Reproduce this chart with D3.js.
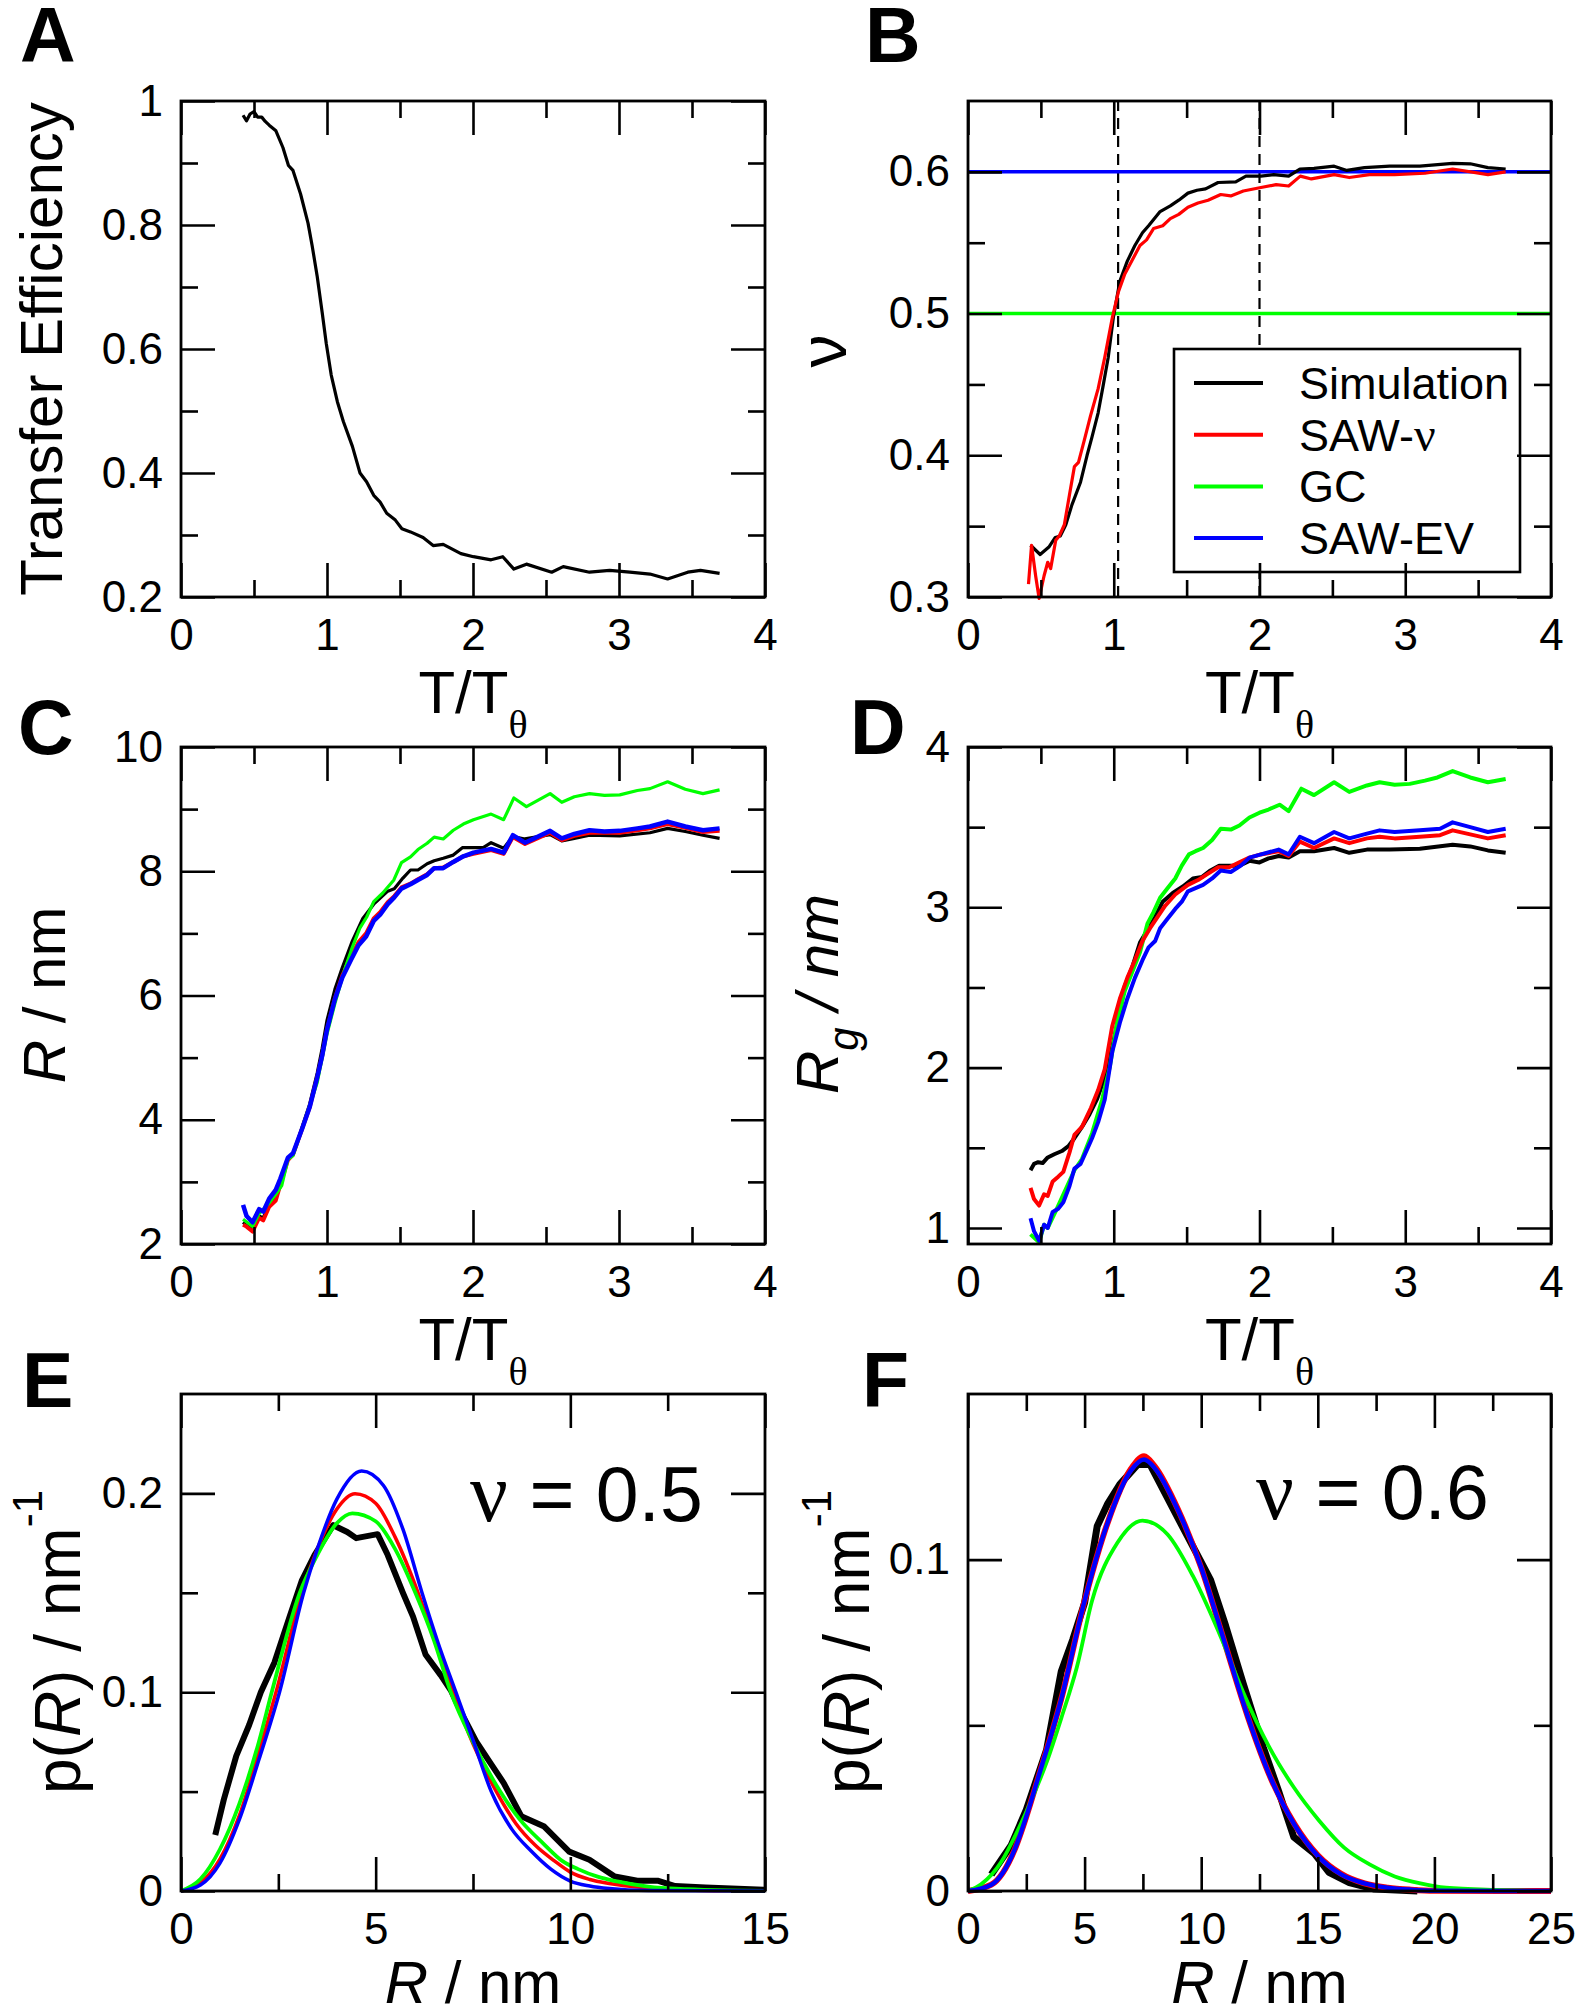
<!DOCTYPE html>
<html><head><meta charset="utf-8">
<script src="https://cdn.jsdelivr.net/npm/d3@7"></script>
<style>
html,body{margin:0;padding:0;background:#fff;}
svg text{font-family:"Liberation Sans",Arial,Helvetica,sans-serif;fill:#000;}
</style></head><body>
<svg id="fig" width="1581" height="2010" xmlns="http://www.w3.org/2000/svg"></svg>
<script>
// ---------------- DATA ----------------
// Panel A: transfer efficiency vs T/Ttheta
const effSim = [[0.425,0.977],[0.449,0.968],[0.473,0.979],[0.50,0.983],[0.525,0.974],[0.553,0.974],[0.577,0.967],[0.604,0.961],[0.65,0.952],[0.698,0.925],[0.736,0.896],[0.767,0.888],[0.819,0.85],[0.87,0.803],[0.898,0.767],[0.933,0.717],[0.967,0.659],[0.995,0.609],[1.029,0.558],[1.071,0.515],[1.112,0.483],[1.174,0.443],[1.226,0.40],[1.271,0.386],[1.32,0.364],[1.364,0.353],[1.409,0.335],[1.468,0.324],[1.513,0.31],[1.572,0.305],[1.658,0.296],[1.727,0.283],[1.796,0.285],[1.917,0.27],[2.003,0.265],[2.124,0.26],[2.204,0.265],[2.28,0.245],[2.366,0.253],[2.539,0.24],[2.618,0.249],[2.798,0.24],[2.936,0.243],[3.074,0.24],[3.212,0.237],[3.333,0.229],[3.471,0.24],[3.558,0.243],[3.689,0.238]];

// Panel B: scaling exponent nu
const nuSim = [[0.429,0.3365],[0.495,0.330],[0.557,0.3355],[0.599,0.342],[0.633,0.343],[0.671,0.351],[0.713,0.365],[0.772,0.381],[0.817,0.40],[0.851,0.413],[0.893,0.43],[0.927,0.449],[0.962,0.469],[0.997,0.497],[1.042,0.523],[1.093,0.537],[1.145,0.548],[1.197,0.557],[1.239,0.562],[1.318,0.572],[1.388,0.576],[1.446,0.580],[1.509,0.585],[1.571,0.587],[1.63,0.588],[1.716,0.5925],[1.837,0.593],[1.907,0.597],[2.01,0.597],[2.097,0.598],[2.2,0.597],[2.277,0.602],[2.374,0.6025],[2.512,0.604],[2.599,0.601],[2.72,0.603],[2.893,0.604],[3.1,0.604],[3.325,0.606],[3.446,0.6057],[3.567,0.603],[3.689,0.602]];
const nuSAW = [[0.415,0.309],[0.436,0.3365],[0.464,0.315],[0.488,0.299],[0.522,0.315],[0.547,0.3245],[0.567,0.320],[0.602,0.340],[0.626,0.343],[0.661,0.351],[0.696,0.372],[0.73,0.392],[0.758,0.395],[0.799,0.411],[0.841,0.428],[0.893,0.447],[0.938,0.469],[0.99,0.497],[1.031,0.515],[1.076,0.528],[1.128,0.538],[1.18,0.548],[1.225,0.552],[1.273,0.560],[1.336,0.562],[1.388,0.567],[1.446,0.570],[1.509,0.575],[1.578,0.578],[1.647,0.580],[1.734,0.584],[1.803,0.583],[1.889,0.5865],[2.01,0.589],[2.114,0.591],[2.2,0.590],[2.28,0.597],[2.356,0.595],[2.512,0.598],[2.616,0.596],[2.754,0.598],[2.927,0.598],[3.135,0.599],[3.325,0.602],[3.567,0.598],[3.689,0.600]];
const nuGC = [[0,0.5],[4,0.5]];
const nuEV = [[0,0.6],[4,0.6]];
const thetaMarks = [1.03, 2.0];
const legendNames = ["Simulation","SAW-\u03bd","GC","SAW-EV"];

// Panel C: end-to-end distance R / nm
const rSim = [[0.425,2.35],[0.449,2.3],[0.49,2.24],[0.535,2.45],[0.563,2.42],[0.604,2.64],[0.649,2.78],[0.68,3.0],[0.732,3.37],[0.767,3.44],[0.829,3.88],[0.881,4.25],[0.933,4.75],[0.967,5.15],[1.0,5.6],[1.054,6.1],[1.105,6.45],[1.174,6.88],[1.243,7.23],[1.32,7.47],[1.416,7.68],[1.461,7.72],[1.52,7.89],[1.572,8.02],[1.623,8.02],[1.686,8.12],[1.734,8.17],[1.796,8.21],[1.865,8.26],[1.927,8.38],[2.0,8.38],[2.07,8.38],[2.124,8.46],[2.21,8.37],[2.273,8.56],[2.356,8.52],[2.528,8.59],[2.608,8.49],[2.694,8.53],[2.798,8.58],[3.005,8.57],[3.212,8.62],[3.333,8.69],[3.454,8.64],[3.575,8.58],[3.689,8.53]];
const rSAW = [[0.425,2.31],[0.449,2.28],[0.49,2.2],[0.535,2.42],[0.563,2.38],[0.604,2.6],[0.649,2.7],[0.68,2.95],[0.732,3.35],[0.767,3.44],[0.829,3.85],[0.881,4.2],[0.933,4.68],[0.967,5.03],[1.0,5.45],[1.054,5.95],[1.105,6.32],[1.164,6.62],[1.216,6.86],[1.268,7.0],[1.32,7.24],[1.364,7.34],[1.416,7.5],[1.461,7.6],[1.51,7.74],[1.572,7.8],[1.623,7.87],[1.686,7.95],[1.734,8.05],[1.796,8.06],[1.865,8.15],[1.934,8.24],[2.003,8.28],[2.124,8.34],[2.21,8.28],[2.273,8.55],[2.356,8.44],[2.528,8.62],[2.608,8.5],[2.694,8.57],[2.798,8.62],[2.9,8.62],[3.005,8.62],[3.126,8.66],[3.212,8.69],[3.333,8.76],[3.454,8.7],[3.575,8.63],[3.689,8.65]];
const rGC = [[0.425,2.4],[0.49,2.28],[0.535,2.49],[0.604,2.66],[0.649,2.8],[0.69,2.94],[0.732,3.36],[0.767,3.42],[0.829,3.85],[0.933,4.6],[1.0,5.38],[1.054,5.87],[1.123,6.43],[1.174,6.78],[1.226,7.09],[1.271,7.26],[1.32,7.51],[1.382,7.65],[1.458,7.86],[1.51,8.14],[1.572,8.23],[1.623,8.35],[1.686,8.45],[1.734,8.55],[1.796,8.52],[1.865,8.66],[1.934,8.76],[2.003,8.83],[2.124,8.92],[2.21,8.83],[2.28,9.18],[2.366,9.04],[2.528,9.25],[2.608,9.11],[2.694,9.2],[2.798,9.25],[2.9,9.22],[3.005,9.23],[3.126,9.3],[3.212,9.33],[3.333,9.44],[3.454,9.32],[3.575,9.25],[3.689,9.31]];
const rEV = [[0.425,2.63],[0.449,2.45],[0.49,2.35],[0.535,2.56],[0.563,2.52],[0.604,2.73],[0.649,2.87],[0.68,3.05],[0.732,3.39],[0.767,3.46],[0.829,3.85],[0.881,4.2],[0.933,4.68],[0.967,5.03],[1.0,5.45],[1.054,5.94],[1.105,6.29],[1.164,6.57],[1.216,6.81],[1.268,6.95],[1.32,7.2],[1.364,7.3],[1.416,7.47],[1.461,7.58],[1.51,7.72],[1.572,7.79],[1.623,7.86],[1.686,7.94],[1.734,8.05],[1.796,8.05],[1.865,8.15],[1.934,8.24],[2.003,8.3],[2.124,8.36],[2.21,8.3],[2.273,8.58],[2.356,8.46],[2.528,8.65],[2.608,8.53],[2.694,8.6],[2.798,8.66],[2.9,8.64],[3.005,8.65],[3.126,8.69],[3.212,8.72],[3.333,8.8],[3.454,8.72],[3.575,8.66],[3.689,8.69]];

// Panel D: radius of gyration Rg / nm
const rgSim = [[0.429,1.36],[0.453,1.40],[0.481,1.41],[0.512,1.405],[0.547,1.44],[0.592,1.46],[0.644,1.48],[0.689,1.51],[0.73,1.56],[0.782,1.63],[0.834,1.71],[0.886,1.805],[0.938,1.94],[0.99,2.13],[1.042,2.35],[1.076,2.51],[1.128,2.63],[1.18,2.78],[1.232,2.86],[1.284,2.94],[1.336,3.035],[1.405,3.09],[1.474,3.13],[1.543,3.18],[1.606,3.19],[1.664,3.23],[1.723,3.26],[1.803,3.26],[1.862,3.26],[1.931,3.29],[2.0,3.28],[2.062,3.305],[2.131,3.32],[2.2,3.31],[2.277,3.35],[2.374,3.35],[2.512,3.37],[2.616,3.34],[2.737,3.36],[2.893,3.36],[3.1,3.365],[3.325,3.39],[3.446,3.38],[3.567,3.355],[3.689,3.34]];
const rgSAW = [[0.429,1.25],[0.453,1.18],[0.488,1.14],[0.522,1.21],[0.547,1.2],[0.581,1.29],[0.619,1.32],[0.654,1.35],[0.696,1.47],[0.73,1.58],[0.782,1.63],[0.844,1.75],[0.893,1.86],[0.938,1.99],[0.99,2.26],[1.042,2.43],[1.093,2.56],[1.145,2.67],[1.197,2.79],[1.249,2.87],[1.301,2.94],[1.353,3.01],[1.422,3.08],[1.509,3.14],[1.578,3.17],[1.647,3.21],[1.716,3.25],[1.792,3.25],[1.862,3.28],[1.931,3.31],[2.01,3.33],[2.131,3.35],[2.2,3.32],[2.277,3.41],[2.374,3.37],[2.512,3.43],[2.616,3.40],[2.737,3.43],[2.824,3.44],[2.927,3.43],[3.1,3.44],[3.239,3.45],[3.325,3.48],[3.446,3.455],[3.567,3.43],[3.689,3.45]];
const rgGC = [[0.429,0.96],[0.488,0.91],[0.522,1.02],[0.547,1.0],[0.61,1.12],[0.73,1.36],[0.782,1.43],[0.851,1.59],[0.92,1.8],[0.972,2.0],[1.024,2.29],[1.076,2.48],[1.128,2.6],[1.18,2.72],[1.232,2.9],[1.273,2.97],[1.318,3.06],[1.37,3.12],[1.422,3.18],[1.467,3.26],[1.516,3.33],[1.561,3.35],[1.613,3.37],[1.675,3.42],[1.734,3.49],[1.803,3.485],[1.862,3.51],[1.931,3.56],[2.0,3.59],[2.062,3.61],[2.138,3.64],[2.2,3.60],[2.287,3.74],[2.374,3.70],[2.512,3.78],[2.616,3.72],[2.737,3.76],[2.824,3.78],[2.927,3.765],[3.031,3.77],[3.135,3.79],[3.221,3.81],[3.325,3.85],[3.446,3.81],[3.567,3.78],[3.689,3.80]];
const rgEV = [[0.429,1.06],[0.453,0.98],[0.488,0.92],[0.522,1.02],[0.547,1.0],[0.581,1.1],[0.619,1.12],[0.654,1.16],[0.696,1.26],[0.73,1.37],[0.772,1.40],[0.817,1.49],[0.851,1.56],[0.893,1.66],[0.938,1.8],[0.99,2.1],[1.042,2.28],[1.093,2.43],[1.145,2.56],[1.197,2.67],[1.239,2.75],[1.284,2.79],[1.318,2.87],[1.37,2.93],[1.422,2.99],[1.467,3.035],[1.509,3.10],[1.561,3.12],[1.613,3.14],[1.675,3.18],[1.734,3.23],[1.803,3.22],[1.872,3.26],[1.931,3.31],[2.01,3.33],[2.131,3.36],[2.2,3.33],[2.277,3.44],[2.374,3.40],[2.512,3.47],[2.616,3.43],[2.737,3.46],[2.824,3.48],[2.927,3.47],[3.1,3.48],[3.239,3.49],[3.325,3.53],[3.446,3.50],[3.567,3.47],[3.689,3.49]];

// Panel E: p(R) at nu = 0.5
const pSim05 = [[0.88,0.0282],[1.1,0.046],[1.42,0.068],[1.75,0.0835],[2.05,0.1],[2.4,0.115],[2.79,0.138],[3.1,0.156],[3.43,0.169],[3.91,0.184],[4.27,0.1806],[4.5,0.1775],[5.05,0.1795],[5.31,0.169],[5.7,0.150],[5.96,0.138],[6.28,0.119],[6.67,0.1086],[6.93,0.101],[7.25,0.0877],[7.58,0.0752],[7.97,0.0637],[8.29,0.0543],[8.74,0.0376],[9.33,0.0324],[9.97,0.0198],[10.49,0.0157],[11.14,0.0073],[11.72,0.0052],[12.24,0.0052],[12.69,0.0025],[13.47,0.0017],[15,0.0006]];
const pSAW05 = [[0,0],[0.5,0.004],[1,0.016],[1.5,0.038],[2,0.07],[2.44,0.1],[3.1,0.15],[3.5,0.172],[4,0.192],[4.47,0.1998],[5,0.195],[5.5,0.178],[6.09,0.15],[6.5,0.127],[6.98,0.1],[7.5,0.074],[8.1,0.05],[8.6,0.034],[9.1,0.023],[9.6,0.015],[10,0.0095],[10.5,0.0058],[11,0.0038],[12,0.0016],[13,0.0005],[14,0.0001],[15,0]];
const pGC05 = [[0,0],[0.5,0.006],[1,0.021],[1.5,0.044],[2,0.075],[2.33,0.1],[3.05,0.15],[3.5,0.169],[4,0.185],[4.4,0.19],[5,0.186],[5.5,0.172],[6.02,0.15],[6.5,0.126],[6.93,0.1],[7.5,0.075],[8.2,0.05],[8.7,0.036],[9.3,0.024],[9.8,0.015],[10.2,0.011],[10.7,0.0072],[11.2,0.0048],[12,0.0022],[13,0.0009],[14,0.0003],[15,0.0001]];
const pEV05 = [[0,0],[0.5,0.003],[1,0.014],[1.5,0.036],[2,0.066],[2.53,0.1],[3.15,0.15],[3.5,0.172],[4,0.197],[4.64,0.2113],[5.2,0.204],[5.7,0.182],[6.19,0.15],[6.6,0.125],[7.06,0.1],[7.5,0.076],[7.97,0.05],[8.5,0.031],[9.0,0.02],[9.5,0.011],[10,0.005],[10.5,0.0025],[11,0.0012],[12,0.0002],[15,0]];

// Panel F: p(R) at nu = 0.6
const pSim06 = [[1.0,0.005],[1.86,0.0139],[2.5,0.0245],[3.37,0.0426],[4.0,0.0663],[4.5,0.076],[5.0,0.087],[5.54,0.1101],[6.0,0.117],[6.51,0.1227],[7.27,0.1287],[7.81,0.1287],[9.0,0.1126],[10.4,0.0939],[11.05,0.080],[11.8,0.0626],[12.67,0.0432],[13.32,0.0301],[13.97,0.0163],[14.84,0.0114],[15.48,0.0056],[16.35,0.0025],[17.43,0.0006],[19.27,0]];
const pSAW06 = [[0,0],[1,0.0019],[2,0.0125],[2.5,0.0225],[3,0.034],[4,0.058],[5,0.0876],[6,0.1114],[7,0.1275],[7.55,0.1312],[8,0.1282],[9,0.1152],[10,0.0976],[11,0.0751],[12,0.0526],[13,0.0338],[14,0.0202],[15,0.0108],[16,0.0052],[17,0.0023],[18,0.001],[19,0.0004],[20,0.0001],[25,0]];
const pGC06 = [[0,0],[0.56,0.002],[1.43,0.0088],[2.08,0.0175],[2.72,0.0275],[3.37,0.0388],[4.02,0.0526],[4.67,0.0676],[5.32,0.0876],[6.4,0.105],[7.48,0.1118],[8.56,0.1076],[9.65,0.095],[10.94,0.075],[11.8,0.060],[12.89,0.0438],[13.97,0.0313],[15.05,0.0213],[16.13,0.0131],[17.2,0.0081],[18.3,0.0044],[19.4,0.0023],[20.5,0.001],[22.6,0.0003],[25,0]];
const pEV06 = [[0,0],[1,0.0019],[2,0.0125],[2.5,0.0225],[3,0.034],[4,0.058],[5,0.0876],[6,0.1114],[7,0.127],[7.55,0.1302],[8,0.1277],[9,0.115],[10,0.0976],[11,0.0751],[12,0.0526],[13,0.0338],[14,0.02],[15,0.0106],[16,0.005],[17,0.0023],[18,0.001],[19,0.0004],[20,0.0001],[25,0]];

// tick values
const tTicksMaj = [0,1,2,3,4], tTicksMin = [0.5,1.5,2.5,3.5];
const effTicksMaj = [0.2,0.4,0.6,0.8,1], effTicksMin = [0.3,0.5,0.7,0.9];
const nuTicksMaj = [0.3,0.4,0.5,0.6], nuTicksMin = [0.35,0.45,0.55];
const rTicksMaj = [2,4,6,8,10], rTicksMin = [3,5,7,9];
const rgTicksMaj = [1,2,3,4], rgTicksMin = [1.5,2.5,3.5];
const eXMaj = [0,5,10,15], eXMin = [2.5,7.5,12.5];
const eYMaj = [0,0.1,0.2], eYMin = [0.05,0.15];
const fXMaj = [0,5,10,15,20,25], fXMin = [2.5,7.5,12.5,17.5,22.5];
const fYMaj = [0,0.1], fYMin = [0.05];

// ---------------- DRAWING ----------------
const svg = d3.select("#fig");
const COL = {sim:"#000000", saw:"#ff0000", gc:"#00ff00", ev:"#0000ff"};
const MAJ = 34, MIN = 17;

function panel(left, top, w, h, xd, yd) {
  const x = d3.scaleLinear().domain(xd).range([left, left + w]);
  const y = d3.scaleLinear().domain(yd).range([top + h, top]);
  const g = svg.append("g");
  return {g, x, y, left, top, w, h};
}
function styleAxis(sel) {
  sel.select(".domain").remove();
  sel.selectAll(".tick line").attr("stroke", "#000").attr("stroke-width", 2.6);
  sel.selectAll(".tick text").attr("font-size", 44).attr("font-family", "'Liberation Sans', Arial, sans-serif").attr("fill", "#000");
  sel.attr("font-size", null).attr("font-family", null);
}
function axes(P, xMaj, xMin, yMaj, yMin) {
  const {g, x, y, left, top, w, h} = P;
  const b = top + h, r = left + w;
  const fmt = d => String(d);
  g.append("g").attr("transform", `translate(0,${b})`)
    .call(d3.axisBottom(x).tickValues(xMaj).tickSize(-MAJ).tickPadding(22).tickFormat(fmt)).call(styleAxis);
  g.append("g").attr("transform", `translate(0,${b})`)
    .call(d3.axisBottom(x).tickValues(xMin).tickSize(-MIN).tickFormat("")).call(styleAxis);
  g.append("g").attr("transform", `translate(0,${top})`)
    .call(d3.axisTop(x).tickValues(xMaj).tickSize(-MAJ).tickFormat("")).call(styleAxis);
  g.append("g").attr("transform", `translate(0,${top})`)
    .call(d3.axisTop(x).tickValues(xMin).tickSize(-MIN).tickFormat("")).call(styleAxis);
  g.append("g").attr("transform", `translate(${left},0)`)
    .call(d3.axisLeft(y).tickValues(yMaj).tickSize(-MAJ).tickPadding(18).tickFormat(fmt)).call(styleAxis);
  g.append("g").attr("transform", `translate(${left},0)`)
    .call(d3.axisLeft(y).tickValues(yMin).tickSize(-MIN).tickFormat("")).call(styleAxis);
  g.append("g").attr("transform", `translate(${r},0)`)
    .call(d3.axisRight(y).tickValues(yMaj).tickSize(-MAJ).tickFormat("")).call(styleAxis);
  g.append("g").attr("transform", `translate(${r},0)`)
    .call(d3.axisRight(y).tickValues(yMin).tickSize(-MIN).tickFormat("")).call(styleAxis);
  g.append("rect").attr("x", left).attr("y", top).attr("width", w).attr("height", h)
    .attr("fill", "none").attr("stroke", "#000").attr("stroke-width", 2.8);
}
function series(P, data, color, width, curve) {
  const line = d3.line().x(d => P.x(d[0])).y(d => P.y(d[1])).curve(curve || d3.curveLinear);
  P.g.append("path").attr("d", line(data)).attr("fill", "none")
    .attr("stroke", color).attr("stroke-width", width).attr("stroke-linejoin", "round");
}
function letter(txt, x, y) {
  svg.append("text").attr("x", x).attr("y", y).attr("font-size", 77).attr("font-weight", "bold").text(txt);
}
function xLabelT(P) {
  const t = svg.append("text").attr("x", P.left + P.w / 2).attr("y", P.top + P.h + 116)
    .attr("text-anchor", "middle").attr("font-size", 60);
  t.append("tspan").text("T/T");
  t.append("tspan").attr("font-size", 40).attr("dy", 25).attr("font-family", "'Liberation Serif', 'Times New Roman', serif").text("\u03b8");
}
function xLabelR(P) {
  const t = svg.append("text").attr("x", P.left + P.w / 2).attr("y", P.top + P.h + 112)
    .attr("text-anchor", "middle").attr("font-size", 60);
  t.append("tspan").attr("font-style", "italic").text("R");
  t.append("tspan").text(" / nm");
}
function yLabel(bx, cy) {
  return svg.append("text").attr("transform", `translate(${bx},${cy}) rotate(-90)`)
    .attr("text-anchor", "middle").attr("font-size", 60);
}

// Panel A
const A = panel(181, 101, 584, 496, [0, 4], [0.2, 1]);
series(A, effSim, COL.sim, 3.2);
axes(A, tTicksMaj, tTicksMin, effTicksMaj, effTicksMin);
letter("A", 20, 62);
xLabelT(A);
yLabel(62, 349).text("Transfer Efficiency");

// Panel B
const B = panel(968, 101, 583, 496, [0, 4], [0.3, 0.65]);
thetaMarks.forEach(v => {
  B.g.append("line").attr("x1", B.x(v)).attr("x2", B.x(v)).attr("y1", B.y(0.3)).attr("y2", B.y(0.65))
    .attr("stroke", "#000").attr("stroke-width", 2.2).attr("stroke-dasharray", "11,7");
});
series(B, nuGC, COL.gc, 3.5);
series(B, nuEV, COL.ev, 3.5);
series(B, nuSim, COL.sim, 3.2);
series(B, nuSAW, COL.saw, 3.2);
// legend
{
  const lg = B.g.append("g");
  lg.append("rect").attr("x", 1174).attr("y", 349).attr("width", 346).attr("height", 223)
    .attr("fill", "#fff").attr("stroke", "#000").attr("stroke-width", 2.6);
  const cols = [COL.sim, COL.saw, COL.gc, COL.ev];
  legendNames.forEach((n, i) => {
    const yy = 383 + i * 51.7;
    lg.append("line").attr("x1", 1194).attr("x2", 1263).attr("y1", yy).attr("y2", yy)
      .attr("stroke", cols[i]).attr("stroke-width", 4);
    const t = lg.append("text").attr("x", 1299).attr("y", yy + 16).attr("font-size", 45);
    if (n.indexOf("\u03bd") >= 0) {
      t.append("tspan").text("SAW-");
      t.append("tspan").attr("font-family", "'Liberation Serif', 'Times New Roman', serif").attr("font-size", 48).text("\u03bd");
    } else t.text(n);
  });
}
axes(B, tTicksMaj, tTicksMin, nuTicksMaj, nuTicksMin);
letter("B", 865, 62);
xLabelT(B);
yLabel(846, 351).attr("font-family", "'Liberation Serif', 'Times New Roman', serif").attr("font-size", 66).text("\u03bd");

// Panel C
const C = panel(181, 747, 584, 497, [0, 4], [2, 10]);
series(C, rSim, COL.sim, 3.2);
series(C, rSAW, COL.saw, 4);
series(C, rGC, COL.gc, 3.2);
series(C, rEV, COL.ev, 4.5);
axes(C, tTicksMaj, tTicksMin, rTicksMaj, rTicksMin);
letter("C", 18, 754);
xLabelT(C);
{
  const t = yLabel(65, 995);
  t.append("tspan").attr("font-style", "italic").text("R");
  t.append("tspan").text(" / nm");
}

// Panel D
const D = panel(968, 747, 583, 497, [0, 4], [0.9, 4]);
series(D, rgSim, COL.sim, 4);
series(D, rgGC, COL.gc, 4);
series(D, rgSAW, COL.saw, 4);
series(D, rgEV, COL.ev, 4);
axes(D, tTicksMaj, tTicksMin, rgTicksMaj, rgTicksMin);
letter("D", 850, 754);
xLabelT(D);
{
  const t = yLabel(838, 994).attr("font-style", "italic");
  t.append("tspan").text("R");
  t.append("tspan").attr("font-size", 42).attr("dy", 20).text("g");
  t.append("tspan").attr("dy", -20).text(" / nm");
}

// Panel E
const E = panel(181, 1394, 584, 497, [0, 15], [0, 0.25]);
series(E, pSim05, COL.sim, 6);
series(E, pSAW05, COL.saw, 3.5, d3.curveMonotoneX);
series(E, pGC05, COL.gc, 3.8, d3.curveMonotoneX);
series(E, pEV05, COL.ev, 3.5, d3.curveMonotoneX);
axes(E, eXMaj, eXMin, eYMaj, eYMin);
letter("E", 22, 1407);
xLabelR(E);
function pLabel(bx, cy) {
  const t = yLabel(bx, cy).attr("font-size", 64);
  t.append("tspan").text("p(");
  t.append("tspan").attr("font-style", "italic").text("R");
  t.append("tspan").text(") / nm");
  t.append("tspan").attr("font-size", 42).attr("dy", -38).text("-1");
}
pLabel(80, 1642);
function nuNote(x, y, val) {
  const t = svg.append("text").attr("x", x).attr("y", y).attr("font-size", 77);
  t.append("tspan").attr("font-family", "'Liberation Serif', 'Times New Roman', serif").attr("font-size", 84).text("\u03bd");
  t.append("tspan").text(" = " + val);
}
nuNote(470, 1521, "0.5");

// Panel F
const F = panel(968, 1394, 583, 497, [0, 25], [0, 0.15]);
series(F, pSim06, COL.sim, 7);
series(F, pSAW06, COL.saw, 6, d3.curveMonotoneX);
series(F, pGC06, COL.gc, 3.8, d3.curveMonotoneX);
series(F, pEV06, COL.ev, 4.5, d3.curveMonotoneX);
axes(F, fXMaj, fXMin, fYMaj, fYMin);
letter("F", 862, 1407);
xLabelR(F);
pLabel(869, 1642);
nuNote(1256, 1519, "0.6");
</script>
</body></html>
